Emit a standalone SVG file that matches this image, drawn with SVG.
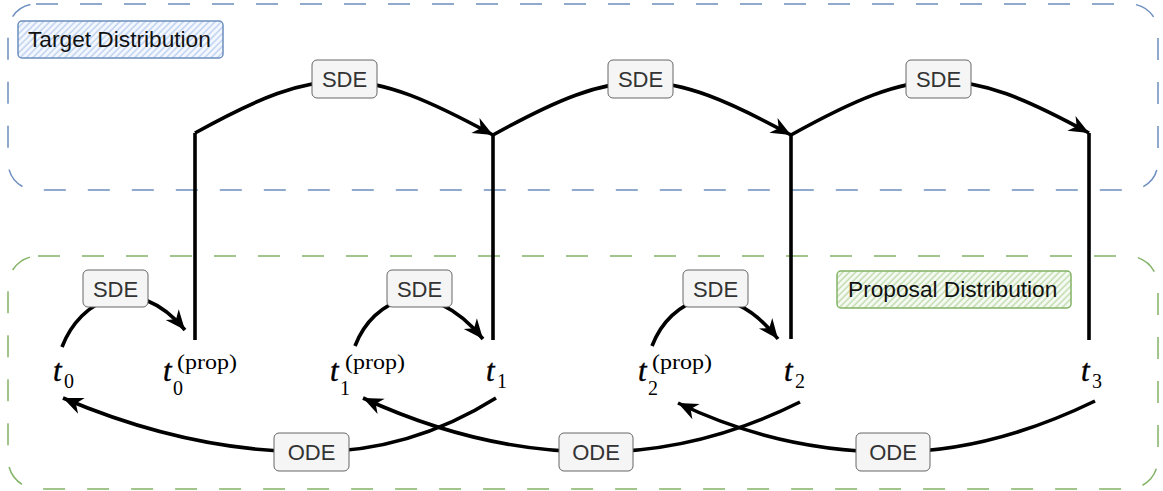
<svg xmlns="http://www.w3.org/2000/svg" width="1163" height="491" viewBox="0 0 1163 491">
  <style>
    .container { fill: none; stroke-width: 1.5; stroke-dasharray: 22 22; }
    .edge { fill: none; stroke: #000; stroke-width: 3.6; }
    .lbl rect { fill: #f5f5f5; stroke: #666; stroke-width: 1; }
    .lbl text { font-family: "Liberation Sans", Arial, sans-serif; font-size: 22px; fill: #333; text-anchor: middle; }
    .title { font-family: "Liberation Sans", Arial, sans-serif; font-size: 22.7px; fill: #111; }
    .mi { font-family: "Liberation Serif", "Times New Roman", serif; font-style: italic; font-size: 31px; fill: #000; stroke: #000; stroke-width: 0.4; }
    .sub { font-family: "Liberation Serif", "Times New Roman", serif; font-size: 20px; fill: #000; }
    .sup { font-family: "Liberation Serif", "Times New Roman", serif; font-size: 20px; fill: #000; }
  </style>
  <defs>
    <marker id="arrow" viewBox="-21 -9 23 18" refX="0" refY="0" markerWidth="23" markerHeight="18" markerUnits="userSpaceOnUse" orient="auto">
      <path d="M0,0 L-20,-8.5 L-14,0 L-20,8.5 Z" fill="#000"/>
    </marker>
    <pattern id="hatchBlue" width="4.5" height="4.5" patternUnits="userSpaceOnUse" patternTransform="rotate(45)">
      <rect width="4.5" height="4.5" fill="#f4f8fe"/>
      <line x1="1" y1="0" x2="1" y2="4.5" stroke="#b7cdee" stroke-width="1.3"/>
    </pattern>
    <pattern id="hatchGreen" width="4.5" height="4.5" patternUnits="userSpaceOnUse" patternTransform="rotate(45)">
      <rect width="4.5" height="4.5" fill="#f5faf2"/>
      <line x1="1" y1="0" x2="1" y2="4.5" stroke="#bcd8a8" stroke-width="1.3"/>
    </pattern>
  </defs>

  <!-- distribution containers -->
  <g id="target-container">
    <rect class="container" x="8" y="4" width="1150" height="186" rx="28" stroke="#6c8ebf"/>
  </g>
  <g id="proposal-container">
    <rect class="container" x="8" y="256" width="1150" height="233" rx="30" stroke="#82b366"/>
  </g>

  <!-- container titles -->
  <g id="target-title">
    <rect x="18" y="21" width="205" height="37" rx="4" fill="url(#hatchBlue)" stroke="#6c8ebf" stroke-width="1.5"/>
    <text class="title" x="28" y="47">Target Distribution</text>
  </g>
  <g id="proposal-title">
    <rect x="837" y="271" width="234" height="37" rx="4" fill="url(#hatchGreen)" stroke="#82b366" stroke-width="1.5"/>
    <text class="title" x="848" y="297">Proposal Distribution</text>
  </g>

  <!-- time points -->
  <g id="t0">
    <text class="mi" x="53" y="381">t</text>
    <text class="sub" x="64" y="388">0</text>
  </g>
  <g id="t0-prop">
    <text class="mi" x="163" y="381">t</text>
    <text class="sub" x="173" y="395">0</text>
    <text class="sup" x="177" y="369" textLength="60" lengthAdjust="spacingAndGlyphs">(prop)</text>
  </g>
  <g id="t1-prop">
    <text class="mi" x="330" y="381">t</text>
    <text class="sub" x="340" y="395">1</text>
    <text class="sup" x="345" y="369" textLength="60" lengthAdjust="spacingAndGlyphs">(prop)</text>
  </g>
  <g id="t1">
    <text class="mi" x="486" y="381">t</text>
    <text class="sub" x="497" y="388">1</text>
  </g>
  <g id="t2-prop">
    <text class="mi" x="638" y="381">t</text>
    <text class="sub" x="648" y="395">2</text>
    <text class="sup" x="652" y="369" textLength="60" lengthAdjust="spacingAndGlyphs">(prop)</text>
  </g>
  <g id="t2">
    <text class="mi" x="784" y="381">t</text>
    <text class="sub" x="795" y="388">2</text>
  </g>
  <g id="t3">
    <text class="mi" x="1081" y="381">t</text>
    <text class="sub" x="1092" y="388">3</text>
  </g>

  <!-- connectors -->
  <g id="connectors">
    <!-- risers from the proposal points up to the target lane -->
    <path class="edge" d="M195,133 V340"/>
    <path class="edge" d="M493,135 V340"/>
    <path class="edge" d="M791,135 V339"/>
    <path class="edge" d="M1089,133 V340"/>

    <!-- SDE steps in the target lane -->
    <path class="edge" d="M195,133 C323,62 364,65 493,135" marker-end="url(#arrow)"/>
    <path class="edge" d="M493,135 C621,64 663,65 791,135" marker-end="url(#arrow)"/>
    <path class="edge" d="M791,135 C919,64 961,63 1089,133" marker-end="url(#arrow)"/>

    <!-- SDE steps in the proposal lane -->
    <path class="edge" d="M62,347 C80,300 135,270 185,330" marker-end="url(#arrow)"/>
    <path class="edge" d="M355,346 C373,299 428,272 483,339" marker-end="url(#arrow)"/>
    <path class="edge" d="M652,346 C670,299 725,272 778,339" marker-end="url(#arrow)"/>

    <!-- ODE returns -->
    <path class="edge" d="M496,398 Q410,452 312,452 Q190,452 63,398" marker-end="url(#arrow)"/>
    <path class="edge" d="M800,402 Q700,452 596,452 Q480,452 363,398" marker-end="url(#arrow)"/>
    <path class="edge" d="M1095,401 Q990,452 893,452 Q780,452 678,403" marker-end="url(#arrow)"/>

    <!-- edge labels -->
    <g class="lbl"><rect x="312" y="60" width="65" height="38" rx="5"/><text x="344.5" y="87">SDE</text></g>
    <g class="lbl"><rect x="608" y="60" width="65" height="38" rx="5"/><text x="640.5" y="87">SDE</text></g>
    <g class="lbl"><rect x="906" y="60" width="65" height="38" rx="5"/><text x="938.5" y="87">SDE</text></g>

    <g class="lbl"><rect x="83" y="270" width="65" height="37" rx="5"/><text x="115.5" y="296.5">SDE</text></g>
    <g class="lbl"><rect x="387" y="270" width="65" height="37" rx="5"/><text x="419.5" y="296.5">SDE</text></g>
    <g class="lbl"><rect x="683" y="270" width="65" height="37" rx="5"/><text x="715.5" y="296.5">SDE</text></g>

    <g class="lbl"><rect x="274" y="433" width="75" height="38" rx="5"/><text x="311.5" y="460">ODE</text></g>
    <g class="lbl"><rect x="559" y="433" width="74" height="38" rx="5"/><text x="596" y="460">ODE</text></g>
    <g class="lbl"><rect x="856" y="433" width="74" height="38" rx="5"/><text x="893" y="460">ODE</text></g>
  </g>
</svg>
